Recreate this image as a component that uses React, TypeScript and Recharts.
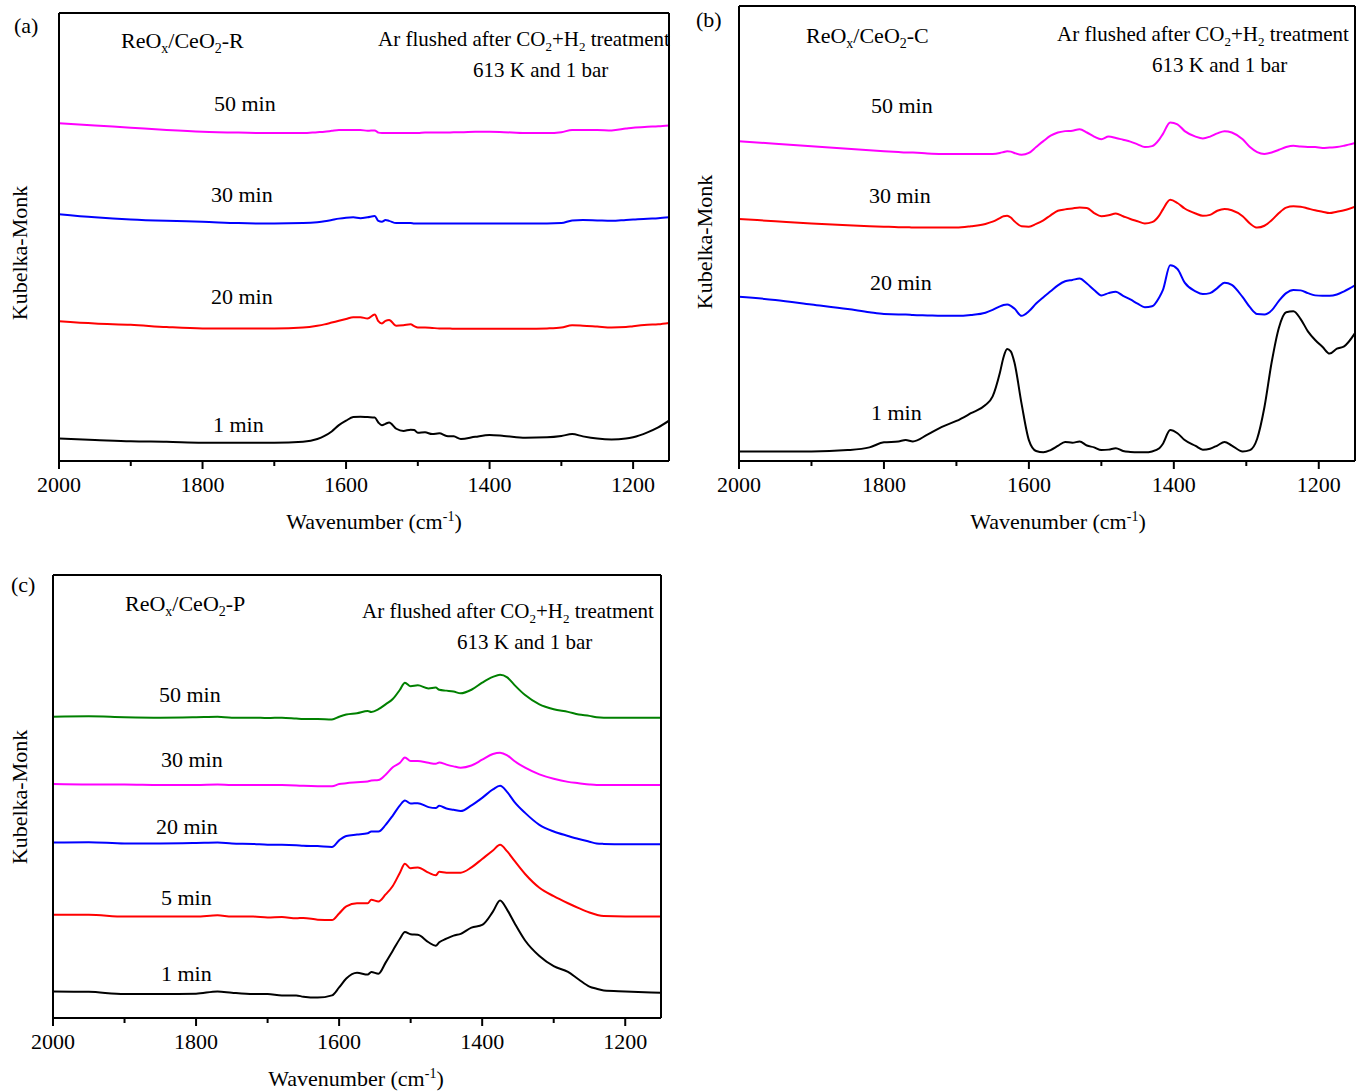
import React from 'react';
import { LineChart, Line, XAxis, YAxis } from 'recharts';

const FONT = '"Liberation Serif", "Times New Roman", serif';

// ---- (a) ReOx/CeO2-R ----
const wavenumberR = [
  2000, 1950, 1900, 1850, 1800, 1750, 1700, 1660, 1640, 1630, 1620, 1610, 1600, 1590, 1580, 1570,
  1560, 1555, 1550, 1545, 1540, 1530, 1520, 1510, 1505, 1500, 1490, 1480, 1470, 1460, 1450, 1440,
  1420, 1400, 1380, 1350, 1320, 1300, 1285, 1270, 1250, 1230, 1210, 1200, 1180, 1165, 1150,
];
const r1min = [
  5.0, 4.7, 4.4, 4.3, 4.1, 4.1, 4.1, 4.3, 4.9, 5.6, 6.6, 8.0, 9.0, 9.8, 9.9, 9.8,
  9.7, 8.6, 8.0, 8.3, 8.6, 7.2, 6.7, 7.0, 6.9, 6.3, 6.4, 6.0, 6.2, 5.6, 5.5, 4.9,
  5.4, 5.8, 5.6, 5.2, 5.3, 5.6, 6.0, 5.5, 5.0, 4.8, 5.0, 5.3, 6.4, 7.5, 9.0,
];
const r20min = [
  31.2, 30.7, 30.4, 29.9, 29.6, 29.6, 29.6, 29.8, 30.2, 30.5, 30.9, 31.3, 31.7, 32.1, 32.1, 31.8,
  32.7, 31.2, 30.7, 31.3, 31.5, 30.2, 30.3, 30.5, 30.1, 29.8, 29.8, 29.7, 29.6, 29.6, 29.5, 29.5,
  29.5, 29.5, 29.5, 29.5, 29.6, 29.8, 30.3, 30.2, 30.0, 29.8, 29.9, 30.1, 30.4, 30.5, 30.8,
];
const r30min = [
  55.1, 54.4, 53.9, 53.6, 53.4, 53.1, 53.0, 53.1, 53.3, 53.5, 53.8, 54.1, 54.3, 54.4, 54.2, 54.4,
  54.7, 53.6, 53.4, 53.8, 53.6, 53.1, 53.1, 53.1, 53.0, 53.0, 53.0, 53.0, 53.0, 53.0, 53.0, 53.0,
  53.0, 53.0, 53.0, 53.0, 53.0, 53.1, 53.7, 53.8, 53.7, 53.6, 53.8, 53.9, 54.1, 54.2, 54.4,
];
const r50min = [
  75.4, 74.9, 74.4, 73.9, 73.5, 73.3, 73.2, 73.2, 73.4, 73.5, 73.7, 73.9, 73.9, 73.9, 73.9, 73.7,
  73.8, 73.3, 73.2, 73.2, 73.2, 73.2, 73.2, 73.2, 73.2, 73.2, 73.3, 73.3, 73.3, 73.3, 73.4, 73.4,
  73.5, 73.5, 73.4, 73.2, 73.2, 73.4, 73.9, 73.9, 73.9, 73.8, 74.2, 74.4, 74.6, 74.7, 74.9,
];

// ---- (b) ReOx/CeO2-C ----
const wavenumberC = [
  2000, 1950, 1900, 1850, 1820, 1800, 1780, 1770, 1760, 1740, 1720, 1700, 1680, 1660, 1650, 1640,
  1635, 1630, 1625, 1620, 1610, 1600, 1590, 1580, 1570, 1560, 1550, 1540, 1530, 1520, 1510, 1500,
  1490, 1480, 1470, 1460, 1450, 1440, 1430, 1420, 1415, 1405, 1395, 1385, 1370, 1360, 1350, 1340,
  1330, 1320, 1305, 1295, 1285, 1275, 1265, 1255, 1245, 1235, 1225, 1215, 1205, 1195, 1185, 1175,
  1165, 1150,
];
const c1min = [
  2.1, 2.1, 2.1, 2.4, 3.0, 4.1, 4.3, 4.6, 4.3, 5.8, 7.5, 8.8, 10.5, 12.3, 14.2, 19.4,
  22.8, 24.6, 24.1, 21.7, 12.5, 4.6, 2.2, 1.9, 2.4, 3.3, 4.2, 4.0, 4.3, 3.4, 3.0, 2.4,
  2.5, 2.8, 2.2, 2.0, 1.9, 1.9, 2.1, 2.8, 3.8, 6.8, 6.1, 4.6, 3.3, 2.5, 2.7, 3.4,
  4.2, 3.4, 2.1, 2.4, 4.9, 11.8, 21.7, 29.3, 32.7, 32.9, 31.2, 28.5, 26.6, 25.1, 23.6, 24.7,
  25.2, 28.1,
];
const c20min = [
  36.1, 35.4, 34.4, 33.4, 32.7, 32.3, 32.2, 32.2, 32.1, 32.0, 31.9, 31.9, 32.1, 32.6, 33.2, 34.0,
  34.3, 34.4, 34.1, 33.5, 31.9, 32.9, 34.6, 36.0, 37.3, 38.6, 39.5, 39.8, 40.1, 39.0, 37.6, 36.4,
  36.9, 37.2, 36.3, 35.5, 34.6, 33.8, 34.0, 36.0, 37.6, 43.0, 42.2, 39.2, 37.3, 36.7, 36.9, 38.0,
  39.2, 38.7, 36.0, 33.8, 32.3, 32.2, 33.1, 35.2, 36.9, 37.6, 37.5, 36.9, 36.4, 36.3, 36.3, 36.6,
  37.3, 38.6,
];
const c30min = [
  53.2, 52.7, 52.2, 51.8, 51.6, 51.5, 51.4, 51.4, 51.3, 51.3, 51.3, 51.3, 51.6, 52.1, 52.6, 53.4,
  53.8, 53.9, 53.5, 52.7, 51.6, 51.5, 52.1, 52.9, 54.0, 55.0, 55.3, 55.5, 55.7, 55.6, 54.5, 53.8,
  54.0, 54.4, 53.8, 53.2, 52.7, 52.2, 52.5, 54.0, 55.3, 57.4, 56.7, 55.5, 54.4, 53.9, 54.1, 55.0,
  55.4, 55.1, 53.8, 52.2, 51.3, 51.7, 52.9, 54.5, 55.7, 56.0, 55.9, 55.5, 55.1, 54.8, 54.5, 54.8,
  55.1, 55.9,
];
const c50min = [
  70.3, 69.7, 69.2, 68.6, 68.3, 68.1, 67.9, 67.8, 67.8, 67.6, 67.5, 67.5, 67.5, 67.5, 67.5, 67.7,
  67.9, 68.1, 68.0, 67.7, 67.3, 67.7, 69.0, 70.3, 71.5, 72.2, 72.5, 72.6, 72.9, 72.2, 71.3, 70.7,
  71.3, 71.0, 70.6, 70.2, 69.6, 69.0, 69.2, 70.7, 71.9, 74.4, 74.0, 72.5, 71.3, 70.9, 71.3, 72.0,
  72.5, 72.2, 70.7, 69.0, 67.9, 67.5, 67.8, 68.4, 69.0, 69.3, 69.1, 69.0, 69.0, 68.8, 68.9, 69.0,
  69.3, 69.9,
];

// ---- (c) ReOx/CeO2-P ----
const wavenumberP = [
  2000, 1950, 1900, 1850, 1800, 1770, 1750, 1720, 1700, 1680, 1660, 1650, 1630, 1610, 1600, 1590,
  1575, 1560, 1555, 1545, 1535, 1525, 1515, 1508, 1500, 1490, 1475, 1465, 1460, 1450, 1440, 1430,
  1415, 1400, 1385, 1375, 1365, 1355, 1340, 1320, 1300, 1280, 1265, 1250, 1240, 1230, 1200, 1150,
];
const p1min = [
  6.0, 5.9, 5.4, 5.4, 5.5, 6.0, 5.7, 5.4, 5.4, 5.1, 5.1, 4.8, 4.6, 5.1, 6.9, 8.9,
  10.2, 9.8, 10.4, 10.0, 12.5, 15.2, 17.9, 19.4, 18.9, 18.8, 17.1, 16.3, 17.1, 17.9, 18.6, 19.0,
  20.4, 21.0, 24.0, 26.5, 24.4, 21.5, 17.5, 14.0, 11.7, 10.4, 8.7, 7.1, 6.6, 6.2, 6.0, 5.7,
];
const p5min = [
  23.3, 23.3, 22.9, 22.9, 22.9, 23.2, 22.9, 22.9, 22.7, 22.8, 22.5, 22.6, 22.2, 22.1, 23.6, 25.2,
  25.9, 25.9, 26.7, 26.3, 27.9, 29.8, 32.8, 34.8, 33.8, 34.0, 32.8, 32.2, 33.0, 32.8, 32.8, 32.8,
  34.0, 35.9, 37.8, 39.1, 37.6, 35.5, 32.5, 29.4, 27.5, 25.9, 24.8, 23.8, 23.3, 23.0, 22.9, 22.9,
];
const p20min = [
  39.6, 39.7, 39.4, 39.4, 39.5, 39.6, 39.4, 39.3, 39.1, 39.1, 39.0, 38.9, 38.8, 38.6, 40.1, 41.1,
  41.4, 41.7, 42.1, 42.1, 43.6, 45.7, 48.0, 49.1, 48.4, 48.5, 47.6, 47.4, 47.9, 47.3, 47.0, 46.7,
  48.0, 49.7, 51.6, 52.4, 51.0, 48.8, 46.3, 43.6, 42.1, 41.1, 40.4, 39.8, 39.4, 39.3, 39.2, 39.2,
];
const p30min = [
  52.8, 52.7, 52.7, 52.6, 52.6, 52.7, 52.6, 52.6, 52.6, 52.6, 52.5, 52.4, 52.3, 52.3, 52.8, 53.0,
  53.2, 53.4, 53.6, 53.7, 54.9, 56.6, 57.6, 58.8, 58.0, 58.0, 57.6, 57.4, 57.7, 57.2, 56.8, 56.5,
  57.0, 58.3, 59.6, 59.9, 59.3, 58.0, 56.5, 55.0, 54.0, 53.3, 53.0, 52.7, 52.6, 52.6, 52.6, 52.6,
];
const p50min = [
  68.0, 68.1, 67.9, 67.8, 67.9, 68.0, 67.8, 67.8, 67.7, 67.8, 67.6, 67.5, 67.5, 67.4, 68.0, 68.5,
  68.8, 69.3, 69.1, 69.7, 70.8, 72.0, 74.1, 75.7, 74.9, 75.1, 74.4, 74.6, 74.1, 73.9, 73.7, 73.3,
  74.1, 75.7, 77.0, 77.5, 76.9, 75.2, 72.9, 70.8, 69.7, 69.1, 68.5, 68.2, 67.9, 67.8, 67.8, 67.8,
];

const waveTicks = [2000, 1900, 1800, 1700, 1600, 1500, 1400, 1300, 1200];

type Trace = { key: string; color: string; values: number[] };
type Box = { left: number; top: number; right: number; bottom: number };

function buildRows(x: number[], traces: Trace[]) {
  return x.map((w, i) => {
    const row: Record<string, number> = { w };
    traces.forEach((t) => (row[t.key] = t.values[i]));
    return row;
  });
}

function WaveTick(props: any) {
  const { x, y, payload } = props;
  const major = payload.value % 200 === 0;
  return (
    <g>
      <line x1={x} x2={x} y1={y} y2={y + (major ? 8 : 5)} stroke="#000" strokeWidth={2} />
      {major && (
        <text x={x} y={y + 31} textAnchor="middle" fontFamily={FONT} fontSize={22} fill="#000">
          {payload.value}
        </text>
      )}
    </g>
  );
}

function Panel({ box, x, traces, yDivisions }: { box: Box; x: number[]; traces: Trace[]; yDivisions: number }) {
  const padL = 40;
  const padR = 3;
  const padT = 6;
  const axisH = 50;
  // the frame axes are 1px wide/high so that Recharts still draws them
  const w = box.right - box.left + padL + padR;
  const h = box.bottom - box.top + padT + axisH;
  const rows = buildRows(x, traces);
  const yTicks = Array.from({ length: yDivisions + 1 }, (_, i) => (i * 100) / yDivisions);
  const axisStyle = { stroke: '#000', strokeWidth: 2 };
  const innerTick = { stroke: '#000', strokeWidth: 1.5 };
  return (
    <div style={{ position: 'absolute', left: box.left - padL, top: box.top - padT }}>
      <LineChart
        width={w}
        height={h}
        data={rows}
        margin={{ top: padT - 1, left: padL - 1, right: padR - 1, bottom: 0 }}
      >
        <XAxis
          dataKey="w"
          type="number"
          domain={[1150, 2000]}
          allowDataOverflow
          reversed
          ticks={waveTicks}
          interval={0}
          height={axisH}
          tickSize={0}
          tickMargin={0}
          tickLine={false}
          tick={<WaveTick />}
          axisLine={axisStyle}
        />
        <XAxis
          xAxisId="top"
          orientation="top"
          dataKey="w"
          type="number"
          domain={[1150, 2000]}
          allowDataOverflow
          reversed
          ticks={waveTicks}
          interval={0}
          height={1}
          mirror
          tick={false}
          tickSize={4}
          tickLine={innerTick}
          axisLine={axisStyle}
        />
        <YAxis
          type="number"
          domain={[0, 100]}
          allowDataOverflow
          ticks={yTicks}
          interval={0}
          width={1}
          mirror
          tick={false}
          tickSize={4}
          tickLine={innerTick}
          axisLine={axisStyle}
        />
        <YAxis
          yAxisId="right"
          orientation="right"
          type="number"
          domain={[0, 100]}
          allowDataOverflow
          ticks={yTicks}
          interval={0}
          width={1}
          mirror
          tick={false}
          tickSize={4}
          tickLine={innerTick}
          axisLine={axisStyle}
        />
        {traces.map((t) => (
          <Line
            key={t.key}
            dataKey={t.key}
            type="monotone"
            stroke={t.color}
            strokeWidth={2}
            dot={false}
            isAnimationActive={false}
          />
        ))}
      </LineChart>
    </div>
  );
}

function Sample({ x, y, tag }: { x: number; y: number; tag: string }) {
  return (
    <text x={x} y={y} fontFamily={FONT} fontSize={22}>
      ReO<tspan dy={5} fontSize={14}>x</tspan>
      <tspan dy={-5}>/CeO</tspan>
      <tspan dy={5} fontSize={14}>2</tspan>
      <tspan dy={-5}>-{tag}</tspan>
    </text>
  );
}

function Conditions({ x, y }: { x: number; y: number }) {
  return (
    <g fontFamily={FONT} fontSize={21}>
      <text x={x} y={y}>
        Ar flushed after CO<tspan dy={5} fontSize={13}>2</tspan>
        <tspan dy={-5}>+H</tspan>
        <tspan dy={5} fontSize={13}>2</tspan>
        <tspan dy={-5}> treatment</tspan>
      </text>
      <text x={x + 95} y={y + 31}>613 K and 1 bar</text>
    </g>
  );
}

function AxisTitles({ cx, y, ky, kx }: { cx: number; y: number; ky: number; kx: number }) {
  return (
    <g fontFamily={FONT} fontSize={22}>
      <text x={cx} y={y} textAnchor="middle">
        Wavenumber (cm<tspan dy={-8} fontSize={14}>-1</tspan>
        <tspan dy={8}>)</tspan>
      </text>
      <text x={kx} y={ky} textAnchor="middle" transform={`rotate(-90 ${kx} ${ky})`}>
        Kubelka-Monk
      </text>
    </g>
  );
}

function Label({ x, y, text }: { x: number; y: number; text: string }) {
  return (
    <text x={x} y={y} fontFamily={FONT} fontSize={22}>
      {text}
    </text>
  );
}

const tracesR: Trace[] = [
  { key: 'm1', color: '#000000', values: r1min },
  { key: 'm20', color: '#ff0000', values: r20min },
  { key: 'm30', color: '#0000ff', values: r30min },
  { key: 'm50', color: '#ff00ff', values: r50min },
];
const tracesC: Trace[] = [
  { key: 'm1', color: '#000000', values: c1min },
  { key: 'm20', color: '#0000ff', values: c20min },
  { key: 'm30', color: '#ff0000', values: c30min },
  { key: 'm50', color: '#ff00ff', values: c50min },
];
const tracesP: Trace[] = [
  { key: 'm1', color: '#000000', values: p1min },
  { key: 'm5', color: '#ff0000', values: p5min },
  { key: 'm20', color: '#0000ff', values: p20min },
  { key: 'm30', color: '#ff00ff', values: p30min },
  { key: 'm50', color: '#008000', values: p50min },
];

export default function App() {
  return (
    <div
      style={{
        position: 'absolute',
        left: 0,
        top: 0,
        width: 1357,
        height: 1091,
        background: '#fff',
        overflow: 'hidden',
      }}
    >
      <Panel box={{ left: 60, top: 14, right: 668, bottom: 461 }} x={wavenumberR} traces={tracesR} yDivisions={6} />
      <Panel box={{ left: 740, top: 7, right: 1354, bottom: 461 }} x={wavenumberC} traces={tracesC} yDivisions={15} />
      <Panel box={{ left: 54, top: 576, right: 660, bottom: 1018 }} x={wavenumberP} traces={tracesP} yDivisions={20} />
      <svg
        width={1357}
        height={1091}
        style={{ position: 'absolute', left: 0, top: 0, pointerEvents: 'none' }}
      >
        {/* panel (a) */}
        <Label x={14} y={33} text="(a)" />
        <Sample x={121} y={48} tag="R" />
        <Conditions x={378} y={46} />
        <Label x={214} y={111} text="50 min" />
        <Label x={211} y={202} text="30 min" />
        <Label x={211} y={304} text="20 min" />
        <Label x={213} y={432} text="1 min" />
        <AxisTitles cx={374} y={529} kx={27} ky={253} />

        {/* panel (b) */}
        <Label x={696} y={27} text="(b)" />
        <Sample x={806} y={43} tag="C" />
        <Conditions x={1057} y={41} />
        <Label x={871} y={113} text="50 min" />
        <Label x={869} y={203} text="30 min" />
        <Label x={870} y={290} text="20 min" />
        <Label x={871} y={420} text="1 min" />
        <AxisTitles cx={1058} y={529} kx={712} ky={242} />

        {/* panel (c) */}
        <Label x={11} y={592} text="(c)" />
        <Sample x={125} y={611} tag="P" />
        <Conditions x={362} y={618} />
        <Label x={159} y={702} text="50 min" />
        <Label x={161} y={767} text="30 min" />
        <Label x={156} y={834} text="20 min" />
        <Label x={161} y={905} text="5 min" />
        <Label x={161} y={981} text="1 min" />
        <AxisTitles cx={356} y={1086} kx={27} ky={797} />
      </svg>
    </div>
  );
}
